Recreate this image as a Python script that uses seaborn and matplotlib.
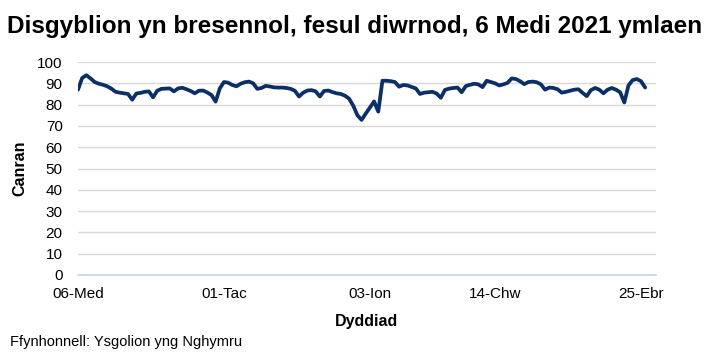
import matplotlib
matplotlib.use("Agg")
import matplotlib.pyplot as plt
import seaborn as sns
import pandas as pd

# School-day categories (Sep 2021 - Apr 2022)
holidays = (list(pd.bdate_range("2021-10-25", "2021-10-29")) +
            list(pd.bdate_range("2021-12-20", "2021-12-31")) +
            list(pd.bdate_range("2022-02-21", "2022-02-25")) +
            list(pd.bdate_range("2022-04-11", "2022-04-22")))
all_days = pd.bdate_range("2021-09-06", "2022-04-26")
dates = [d for d in all_days if d not in holidays]

attendance = [
    87.0, 92.5, 93.8, 92.3, 90.6, 89.8, 89.3, 88.6, 87.5, 86.0,
    85.6, 85.3, 85.0, 82.3, 85.2, 85.5, 86.0, 86.2, 83.4, 86.5,
    87.4, 87.5, 87.6, 86.2, 87.6, 87.9, 87.2, 86.4, 85.3, 86.5,
    86.6, 85.7, 84.5, 81.4, 87.6, 90.6, 90.3, 89.2, 88.6, 89.8,
    90.5, 90.8, 90.0, 87.4, 87.8, 88.8, 88.5, 88.1, 88.0, 88.0,
    87.8, 87.4, 86.5, 83.8, 85.6, 86.6, 86.8, 86.2, 83.8, 86.4,
    86.6, 85.9, 85.3, 85.0, 84.2, 82.8, 79.5, 75.0, 72.8, 75.8,
    78.6, 81.5, 76.7, 91.2, 91.2, 91.0, 90.6, 88.4, 89.2, 89.0,
    88.3, 87.6, 85.0, 85.6, 85.8, 86.0, 85.2, 83.2, 86.9, 87.5,
    87.8, 88.0, 85.8, 88.7, 89.3, 89.8, 89.5, 88.2, 91.2, 90.6,
    90.0, 89.0, 89.5, 90.2, 92.3, 92.0, 91.0, 89.6, 90.6, 90.8,
    90.5, 89.5, 87.0, 88.0, 87.8, 87.2, 85.6, 86.0, 86.5, 87.0,
    87.2, 85.5, 84.0, 86.8, 87.8, 87.0, 85.3, 87.0, 87.8, 87.0,
    85.8, 81.0, 89.0, 91.5, 92.0, 91.0, 88.0,
]

tick_dates = ["2021-09-06", "2021-11-01", "2022-01-03", "2022-02-14", "2022-04-25"]
tick_labels = ["06-Med", "01-Tac", "03-Ion", "14-Chw", "25-Ebr"]
y_ticks = list(range(0, 101, 10))

dates = dates[:len(attendance)]
df = pd.DataFrame({"idx": range(len(attendance)), "date": dates, "value": attendance})

sns.set_style("white")
plt.rcParams["font.family"] = ["Liberation Sans", "DejaVu Sans"]
plt.rcParams["text.color"] = "black"
plt.rcParams["axes.labelcolor"] = "black"
plt.rcParams["xtick.color"] = "black"
plt.rcParams["ytick.color"] = "black"

fig = plt.figure(figsize=(7.07, 3.64), dpi=100)
ax = fig.add_axes([78 / 707, 1 - 275 / 364, (656 - 78) / 707, (275 - 62) / 364])

sns.lineplot(data=df, x="idx", y="value", ax=ax, color="#0b2f66", linewidth=2.7)

ax.set_ylim(0, 100)
ax.set_xlim(0, 138.6)
ax.set_yticks(y_ticks)
ax.set_yticklabels([str(v) for v in y_ticks])
date_to_idx = {d.strftime("%Y-%m-%d"): i for i, d in enumerate(dates)}
ax.set_xticks([date_to_idx[d] for d in tick_dates])
ax.set_xticklabels(tick_labels)
ax.tick_params(axis="both", length=0, labelsize=11, colors="black")
ax.tick_params(axis="y", pad=11)
ax.tick_params(axis="x", pad=9)

ax.grid(axis="y", color="#d9d9d9", linewidth=1)
ax.grid(axis="x", visible=False)
for s in ["top", "right", "left"]:
    ax.spines[s].set_visible(False)
ax.spines["bottom"].set_color("#c5d5ea")
ax.spines["bottom"].set_linewidth(1.2)

ax.set_xlabel("Dyddiad", fontsize=11.5, fontweight="bold", labelpad=9)
ax.set_ylabel("Canran", fontsize=11.5, fontweight="bold", labelpad=7)

fig.text(0.5 * (10 + 700) / 707, 1 - 26 / 364,
         "Disgyblion yn bresennol, fesul diwrnod, 6 Medi 2021 ymlaen",
         ha="center", va="center", fontsize=17.5, fontweight="bold")
fig.text(10 / 707, 1 - 342 / 364, "Ffynhonnell: Ysgolion yng Nghymru",
         ha="left", va="center", fontsize=10.5)

fig.savefig("out.png", dpi=100)
